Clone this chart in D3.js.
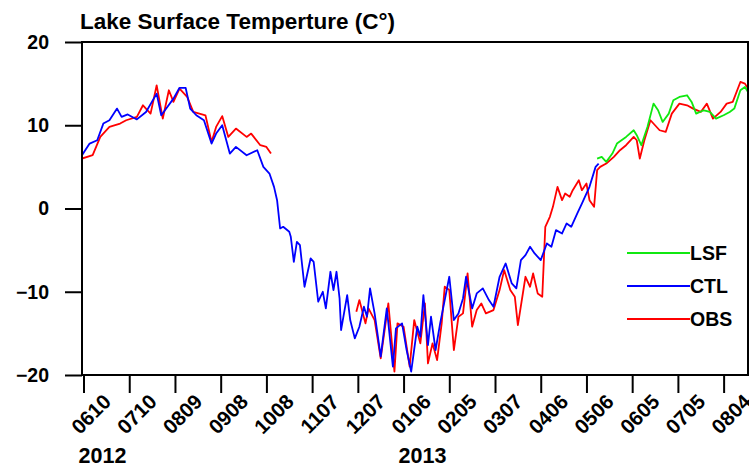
<!DOCTYPE html>
<html>
<head>
<meta charset="utf-8">
<script src="https://cdn.jsdelivr.net/npm/d3@7"></script>
<style>
  body { margin: 0; background: #fff; }
  text { font-family: "Liberation Sans", Arial, sans-serif; font-weight: bold; fill: #000; }
</style>
</head>
<body>
<div id="chart-area"></div>
<script>
// record runs daily from recordStart; series days are offsets from it
const recordStart = '2012-06-09'
const recordEnd = '2013-08-20'

const tickLabels = ['0610', '0710', '0809', '0908', '1008', '1107', '1207', '0106',
  '0205', '0307', '0406', '0506', '0605', '0705', '0804']
const tickDates = ['2012-06-10', '2012-07-10', '2012-08-09', '2012-09-08', '2012-10-08',
  '2012-11-07', '2012-12-07', '2013-01-06', '2013-02-05', '2013-03-07', '2013-04-06',
  '2013-05-06', '2013-06-05', '2013-07-05', '2013-08-04']
const yearLabels = ['2012', '2013']
const yearDates = ['2012-06-10', '2013-01-06']
const yTicks = [-20, -10, 0, 10, 20]

const seriesNames = ['LSF', 'CTL', 'OBS']
const seriesColors = ['#10e810', '#0000ff', '#ff0000']

const ctlDays = [0, 5, 10, 14, 18, 23, 26, 30, 36, 42, 49, 52, 56, 60, 64, 68, 71, 75, 80, 85,
  88, 92, 97, 101, 108, 115, 119, 123, 126, 128, 130, 132, 136, 137, 139, 141, 143, 146, 150, 152,
  155, 158, 160, 163, 165, 167, 169, 170, 174, 176, 179, 182, 185, 187, 189, 192, 196, 200, 204, 206,
  210, 213, 216, 220, 222, 224, 227, 229, 232, 235, 238, 241, 244, 247, 250, 252, 256, 259, 263, 267,
  270, 274, 278, 282, 285, 288, 291, 294, 297, 301, 305, 308, 311, 315, 318, 321, 325, 328, 330, 333,
  337, 339]
const ctlTemps = [6.4, 7.8, 8.2, 10.2, 10.6, 12.0, 11.0, 11.3, 10.7, 11.6, 13.8, 11.2, 12.2, 13.2, 14.5, 14.5, 12.0, 11.2, 10.6, 7.8,
  9.0, 10.0, 6.6, 7.4, 6.4, 7.0, 5.0, 4.2, 2.6, 1.0, -2.4, -2.2, -2.8, -3.4, -6.4, -4.0, -4.4, -9.4, -6.0, -6.4,
  -11.2, -10.0, -12.0, -7.6, -9.8, -7.6, -10.8, -14.6, -10.4, -13.4, -15.6, -14.2, -11.8, -13.0, -9.6, -12.6, -17.8, -12.0, -19.0, -14.4,
  -13.8, -17.0, -19.6, -14.2, -15.4, -10.4, -16.4, -13.0, -17.0, -13.8, -11.0, -8.2, -13.4, -12.6, -10.8, -8.2, -12.0, -10.2, -9.6, -11.0,
  -11.8, -8.2, -6.6, -9.0, -9.6, -6.2, -5.6, -4.6, -5.4, -6.2, -4.2, -4.6, -2.6, -3.0, -1.8, -2.2, -0.6, 0.6, 1.4, 2.6,
  5.0, 5.4]

// null marks the gap in the observations (autumn 2012)
const obsDays = [0, 7, 12, 18, 25, 29, 36, 40, 45, 49, 53, 57, 60, 64, 69, 73, 77, 81, 85, 88,
  92, 96, 101, 108, 111, 117, 121, 124, 150,
  180, 182, 186, 188, 192, 196, 201, 205, 207, 211, 213, 215, 218, 222, 225, 227, 230, 233, 236, 238,
  241, 244, 247, 250, 253, 256, 259, 262, 265, 270, 274, 277, 281, 284, 286, 291, 294, 296, 299, 302,
  304, 307, 309, 312, 315, 317, 320, 322, 326, 328, 331, 333, 336, 338, 340, 344, 349, 353, 357, 362,
  364, 366, 369, 373, 376, 379, 383, 387, 392, 397, 401, 406, 410, 414, 419, 423, 427, 432, 435, 437]
const obsTemps = [6.0, 6.4, 8.6, 9.8, 10.2, 10.6, 11.0, 12.4, 11.4, 14.8, 10.8, 14.2, 12.8, 14.4, 13.4, 11.6, 11.4, 11.2, 8.0, 9.8,
  11.1, 8.6, 9.6, 8.6, 9.0, 7.6, 7.4, 6.6, null,
  -12.4, -11.0, -13.8, -12.0, -13.4, -18.0, -11.4, -19.6, -13.8, -14.2, -16.6, -19.0, -13.4, -16.2, -11.4, -18.6, -16.2, -18.2, -13.8, -9.4,
  -9.8, -17.0, -13.0, -12.6, -7.8, -14.2, -12.2, -11.4, -12.6, -12.2, -9.8, -7.4, -9.8, -10.6, -14.0, -8.2, -9.4, -7.8, -10.2, -10.6,
  -2.2, -1.0, 0.2, 2.6, 1.0, 1.8, 1.4, 2.2, 3.4, 2.2, 3.0, 1.0, 0.2, 4.6, 5.0, 5.4, 6.2, 7.0, 7.6, 8.6,
  8.2, 6.0, 8.2, 10.6, 10.0, 9.4, 9.2, 11.4, 12.6, 12.4, 12.0, 11.6, 12.6, 10.8, 11.6, 12.6, 12.8, 15.2, 15.0, 14.4]

const lsfDays = [338, 341, 344, 348, 351, 354, 357, 362, 364, 367, 371, 375, 378, 381, 385, 388, 392, 397, 400, 403,
  408, 412, 416, 421, 425, 428, 432, 435, 437]
const lsfTemps = [6.0, 6.2, 5.6, 6.6, 7.8, 8.2, 8.6, 9.4, 8.8, 7.6, 9.8, 12.6, 11.8, 10.4, 11.4, 13.0, 13.4, 13.6, 12.8, 11.4,
  11.8, 11.6, 10.8, 11.2, 11.6, 12.0, 14.2, 14.6, 14.0]

const margin = { left: 82, right: 1, top: 42, bottom: 93 }
const width = 749 - margin.left - margin.right
const height = 468 - margin.top - margin.bottom

const parse = d3.utcParse('%Y-%m-%d')
const start = parse(recordStart)

const svg = d3.select('#chart-area').append('svg')
    .attr('width', 749)
    .attr('height', 468)

const g = svg.append('g')
    .attr('transform', `translate(${margin.left}, ${margin.top})`)

const xScale = d3.scaleUtc()
    .domain([start, parse(recordEnd)])
    .range([0, width])

const yScale = d3.scaleLinear()
    .domain([-20, 20])
    .range([height, 0])

const toPoints = (days, temps) => days.map((d, i) => ({ date: d3.utcDay.offset(start, d), t: temps[i] }))

svg.append('clipPath').attr('id', 'plot-clip')
  .append('rect').attr('width', width).attr('height', height)

const line = d3.line()
    .defined(d => d.t !== null)
    .x(d => xScale(d.date))
    .y(d => yScale(d.t))

const plot = g.append('g').attr('clip-path', 'url(#plot-clip)')

// draw order: observations underneath, model runs on top
const drawn = [
  { data: toPoints(obsDays, obsTemps), color: seriesColors[2] },
  { data: toPoints(lsfDays, lsfTemps), color: seriesColors[0] },
  { data: toPoints(ctlDays, ctlTemps), color: seriesColors[1] }
]
drawn.forEach(s => {
  plot.append('path')
    .datum(s.data)
    .attr('fill', 'none')
    .attr('stroke', s.color)
    .attr('stroke-width', 1.8)
    .attr('stroke-linejoin', 'round')
    .attr('d', line)
})

// frame
g.append('rect')
    .attr('width', width)
    .attr('height', height)
    .attr('fill', 'none')
    .attr('stroke', '#000')
    .attr('stroke-width', 2)

// y axis
const yAxis = g.append('g')
    .call(d3.axisLeft(yScale).tickValues(yTicks).tickSize(17).tickSizeOuter(0).tickPadding(16))
yAxis.select('.domain').remove()
yAxis.selectAll('line').attr('stroke', '#000').attr('stroke-width', 2)
yAxis.selectAll('text')
    .attr('font-size', 19.5)
    .style('font-family', '"Liberation Sans", Arial, sans-serif')
    .style('font-weight', 'bold')

// x axis
const xAxis = g.append('g')
    .attr('transform', `translate(0, ${height})`)
    .call(d3.axisBottom(xScale)
      .tickValues(tickDates.map(parse))
      .tickSize(18)
      .tickSizeOuter(0)
      .tickFormat((d, i) => tickLabels[i]))
xAxis.select('.domain').remove()
xAxis.selectAll('line').attr('stroke', '#000').attr('stroke-width', 2)
xAxis.selectAll('text')
    .attr('font-size', 20.5)
    .style('font-family', '"Liberation Sans", Arial, sans-serif')
    .style('font-weight', 'bold')
    .attr('text-anchor', 'middle')
    .attr('dy', '0.35em')
    .attr('y', 0)
    .attr('transform', 'translate(7, 39) rotate(-45)')

// year labels
g.selectAll('.year')
  .data(yearLabels)
  .enter().append('text')
    .attr('class', 'year')
    .attr('x', (d, i) => xScale(parse(yearDates[i])) - 5)
    .attr('y', height + 88)
    .attr('font-size', 21.5)
    .text(d => d)

// title
svg.append('text')
    .attr('x', 80)
    .attr('y', 29)
    .attr('font-size', 22.5)
    .text('Lake Surface Temperture (C°)')

// legend
const legend = g.append('g')
    .attr('transform', `translate(${width - 121}, 211)`)
seriesNames.forEach((name, i) => {
  const row = legend.append('g').attr('transform', `translate(0, ${i * 33})`)
  row.append('line')
      .attr('x1', 0).attr('x2', 63)
      .attr('stroke', seriesColors[i])
      .attr('stroke-width', 2)
  row.append('text')
      .attr('x', 63)
      .attr('dy', '0.35em')
      .attr('font-size', 19.5)
      .text(name)
})
</script>
</body>
</html>
